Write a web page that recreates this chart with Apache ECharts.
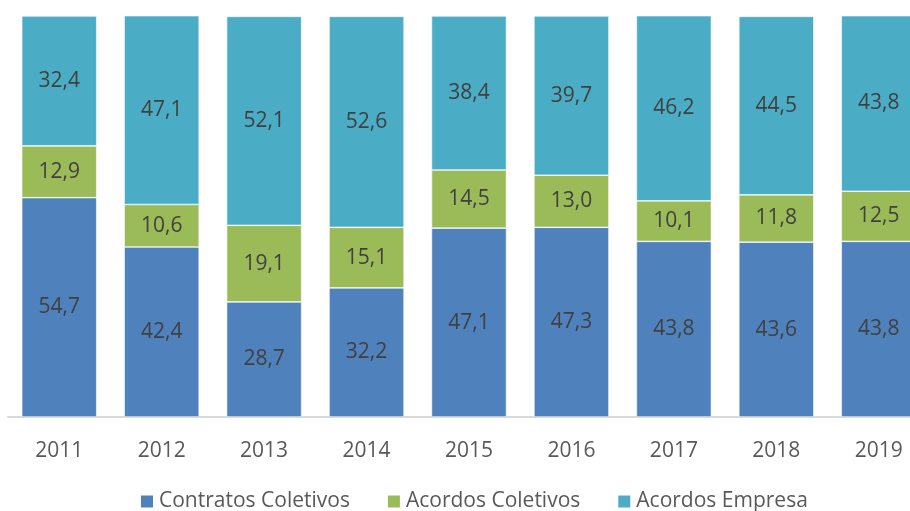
<!DOCTYPE html>
<html>
<head>
<meta charset="utf-8">
<script src="https://cdn.jsdelivr.net/npm/echarts@6/dist/echarts.min.js"></script>
<style>
  html, body { margin: 0; padding: 0; background: #fff; overflow: hidden; }
  #chart { width: 932px; height: 511px; }
</style>
</head>
<body>
<div id="chart"></div>
<script>
  const years = ['2011', '2012', '2013', '2014', '2015', '2016', '2017', '2018', '2019']
  const contratosColetivos = [54.7, 42.4, 28.7, 32.2, 47.1, 47.3, 43.8, 43.6, 43.8]
  const acordosColetivos = [12.9, 10.6, 19.1, 15.1, 14.5, 13.0, 10.1, 11.8, 12.5]
  const acordosEmpresa = [32.4, 47.1, 52.1, 52.6, 38.4, 39.7, 46.2, 44.5, 43.8]

  const font = '"Open Sans", "Noto Sans", sans-serif'
  const fmt = p => p.value.toFixed(1).replace('.', ',')

  const makeSeries = (name, data, color) => ({
    name: name,
    type: 'bar',
    stack: 'total',
    data: data,
    barWidth: 75,
    itemStyle: { color: color, borderColor: '#ffffff', borderWidth: 0.6 },
    label: {
      show: true,
      position: 'inside',
      formatter: fmt,
      color: '#404040',
      fontSize: 21,
      fontFamily: font
    }
  })

  // chart is a bit wider than the window: the last bar is cut off on the right
  const chart = echarts.init(document.getElementById('chart'))
  chart.setOption({
    animation: false,
    grid: { left: 8, right: 2, top: 16, bottom: 94 },
    legend: {
      top: 491,
      left: 139,
      padding: 0,
      itemWidth: 14,
      itemHeight: 14,
      itemGap: 36,
      icon: 'rect',
      textStyle: { color: '#595959', fontSize: 21, fontFamily: font },
      data: ['Contratos Coletivos', 'Acordos Coletivos', 'Acordos Empresa']
    },
    xAxis: {
      type: 'category',
      data: years,
      axisLine: { lineStyle: { color: '#d9d9d9', width: 2 } },
      axisTick: { show: false },
      axisLabel: { color: '#595959', fontSize: 21, fontFamily: font, margin: 24 }
    },
    yAxis: {
      type: 'value',
      min: 0,
      max: 100,
      show: false
    },
    series: [
      makeSeries('Contratos Coletivos', contratosColetivos, '#4f81bd'),
      makeSeries('Acordos Coletivos', acordosColetivos, '#9bbb59'),
      makeSeries('Acordos Empresa', acordosEmpresa, '#4bacc6')
    ]
  })
</script>
</body>
</html>
